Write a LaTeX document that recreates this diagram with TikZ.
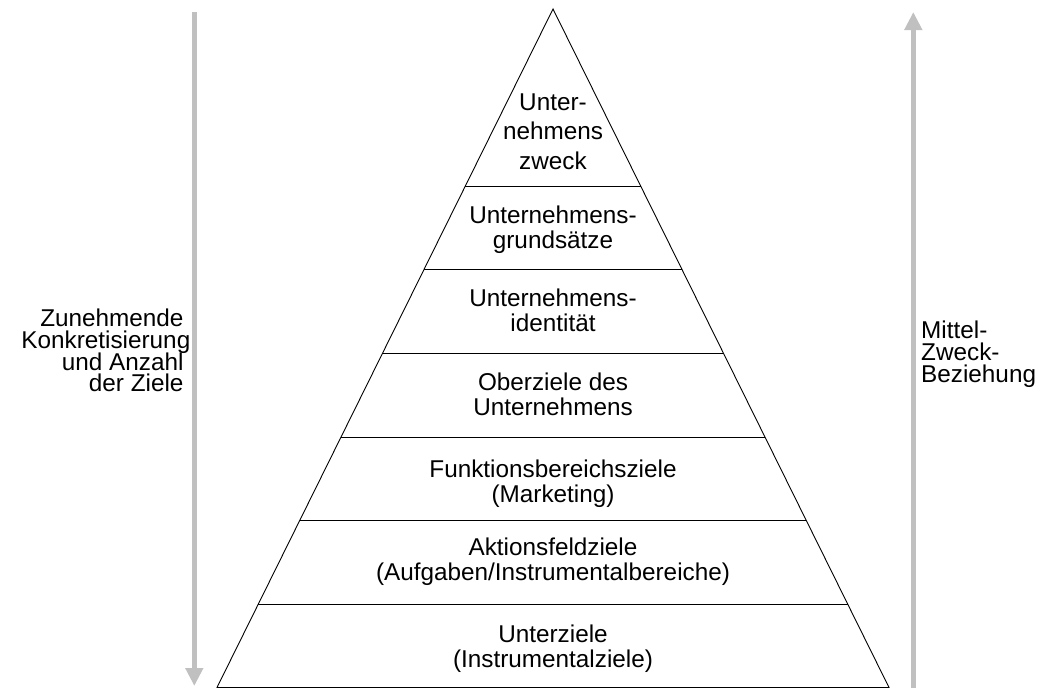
\documentclass[tikz,border=0pt]{standalone}
\usepackage{fontspec}
\setmainfont{Liberation Sans}
\usetikzlibrary{arrows.meta,calc}
\definecolor{arrowgray}{RGB}{192,192,192}
% fixed line pitch regardless of ascenders/descenders
\newcommand\fixedpitch[1]{\fontsize{24.3}{#1}\selectfont\lineskiplimit=-50pt\relax}
\begin{document}
\begin{tikzpicture}[x=1pt,y=-1pt,
  level/.style={draw=black,line width=0.9pt},
  bandtext/.style={align=center,inner sep=0pt,font={\fixedpitch{24.7}}},
  sidetext/.style={inner sep=0pt,font={\fixedpitch{21.8}}},
  grayarrow/.style={draw=arrowgray,line width=5pt,-{Triangle[width=17pt,length=18pt]}}]
\useasboundingbox (0,0) rectangle (1047,688);

% pyramid outline
\coordinate (apex) at (553,9);
\coordinate (bl) at (217,687.5);
\coordinate (br) at (889,687.5);
\draw[level,line join=miter] (bl) -- (apex) -- (br) -- cycle;

% horizontal dividers between the levels
\foreach \t in {0.26087,0.38418,0.50748,0.63080,0.75411,0.87742}
  \draw[level] ($(apex)!\t!(bl)$) -- ($(apex)!\t!(br)$);

% level labels, top to bottom
\node[bandtext,font={\fixedpitch{29.5}}] (t1) at (553,131.5) {Unter-\\nehmens\\zweck};
\node[bandtext] (t2) at (553,229.5) {Unternehmens-\\grundsätze};
\node[bandtext] (t3) at (553,310.5) {Unternehmens-\\identität};
\node[bandtext] (t4) at (553,394) {Oberziele des\\Unternehmens};
\node[bandtext] (t5) at (553,484) {Funktionsbereichsziele\\(Marketing)};
\node[bandtext] (t6) at (553,561.5) {Aktionsfeldziele\\(Aufgaben/Instrumentalbereiche)};
\node[bandtext] (t7) at (553,649) {Unterziele\\(Instrumentalziele)};

% side labels
\node[sidetext,align=right,anchor=east] (lt) at (190.5,350.5)
  {Zunehmende\kern6.8pt\\Konkretisierung\\und Anzahl\kern6.8pt\\der Ziele\kern6.8pt};
\node[sidetext,align=left,anchor=west] (rt) at (921,354)
  {Mittel-\\Zweck-\\Beziehung};

% side arrows
\coordinate (la-top) at (194.3,12);
\coordinate (la-tip) at (194.3,686);
\draw[grayarrow] (la-top) -- (la-tip);
\coordinate (ra-foot) at (913.3,688);
\coordinate (ra-tip) at (913.3,12);
\draw[grayarrow] (ra-foot) -- (ra-tip);
\end{tikzpicture}
\end{document}
